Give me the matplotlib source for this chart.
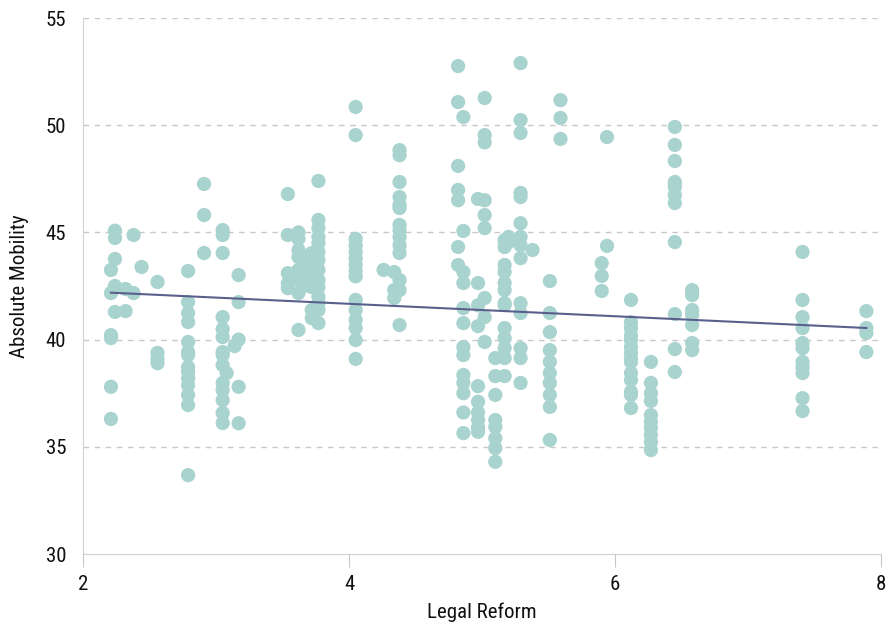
import numpy as np
import matplotlib.pyplot as plt

# legal reform score / absolute mobility, grouped roughly by state column
legal_reform = (
    [2.21]*6 + [2.24]*5 + [2.32]*2 + [2.38]*2 + [2.44] + [2.56]*4
    + [2.79]*14 + [2.91]*3 + [3.05]*14 + [3.08] + [3.14] + [3.17]*5
    + [3.54]*5 + [3.62]*8 + [3.66]*3 + [3.72]*7 + [3.77]*14
    + [4.05]*15 + [4.26] + [4.34]*3 + [4.38]*14
    + [4.82]*7 + [4.86]*13 + [4.97]*10 + [5.02]*9 + [5.10]*8
    + [5.17]*13 + [5.20]*2 + [5.29]*14 + [5.38] + [5.51]*10 + [5.59]*3
    + [5.90]*3 + [5.94]*2 + [6.12]*14 + [6.27]*10 + [6.45]*11
    + [6.58]*7 + [7.41]*11 + [7.89]*4
)
absolute_mobility = (
    [43.25, 42.17, 40.21, 40.07, 37.8, 36.3]
    + [45.08, 44.74, 43.76, 42.5, 41.29]
    + [42.36, 41.33]
    + [44.88, 42.17]
    + [43.39]
    + [42.69, 39.38, 39.1, 38.9]
    + [43.2, 41.75, 41.24, 40.82, 39.89, 39.42, 39.28, 38.72, 38.49, 38.2, 37.88, 37.42, 36.95, 33.68]
    + [47.26, 45.81, 44.04]
    + [45.11, 44.88, 44.04, 41.05, 40.49, 40.12, 39.42, 39.28, 38.81, 37.98, 37.65, 37.18, 36.58, 36.11]
    + [38.44]
    + [39.7]
    + [43.01, 41.75, 40.0, 37.8, 36.1]
    + [46.79, 44.88, 43.1, 42.63, 42.4]
    + [45.0, 44.7, 44.18, 43.85, 43.25, 42.78, 42.17, 40.45]
    + [43.6, 42.9, 42.5]
    + [44.04, 43.6, 43.1, 42.78, 42.45, 41.38, 41.0]
    + [47.4, 45.58, 45.2, 44.79, 44.5, 44.09, 43.71, 43.25, 42.78, 42.45, 41.99, 41.7, 41.38, 40.77]
    + [50.85, 49.54, 44.7, 44.4, 44.1, 43.8, 43.5, 43.2, 42.95, 41.85, 41.38, 40.92, 40.54, 39.98, 39.1]
    + [43.25]
    + [43.15, 42.31, 41.94]
    + [48.84, 48.6, 47.35, 46.65, 46.28, 46.14, 45.35, 45.1, 44.79, 44.4, 44.04, 42.78, 42.31, 40.68]
    + [52.76, 51.08, 48.1, 46.98, 46.5, 44.32, 43.48]
    + [50.38, 45.07, 43.15, 42.64, 41.47, 40.77, 39.65, 39.28, 38.35, 37.98, 37.5, 36.6, 35.64]
    + [46.56, 42.64, 41.6, 40.63, 37.83, 37.1, 36.6, 36.25, 35.9, 35.7]
    + [51.27, 49.54, 49.2, 46.5, 45.81, 45.2, 41.94, 41.05, 39.89]
    + [39.14, 38.3, 37.42, 36.25, 35.93, 35.4, 34.94, 34.3]
    + [44.32, 44.64, 43.48, 43.15, 42.64, 42.31, 41.61, 41.7, 40.54, 40.07, 39.6, 39.14, 38.3]
    + [44.79, 44.55]
    + [52.9, 50.24, 49.64, 46.84, 46.65, 45.43, 44.79, 44.4, 43.8, 41.7, 41.24, 39.6, 39.14, 37.98]
    + [44.18]
    + [42.73, 41.24, 40.35, 39.51, 38.96, 38.44, 37.98, 37.42, 36.86, 35.32]
    + [51.17, 50.34, 49.36]
    + [43.57, 42.97, 42.27]
    + [49.45, 44.37]
    + [41.85, 40.82, 40.54, 39.98, 39.65, 39.37, 38.96, 38.44, 38.12, 37.57, 37.42, 36.81, 40.2, 39.1]
    + [38.96, 37.98, 37.5, 37.14, 36.48, 36.16, 35.88, 35.55, 35.22, 34.85]
    + [49.92, 49.08, 48.33, 47.35, 47.12, 46.74, 46.37, 44.55, 41.19, 39.56, 38.49]
    + [42.31, 42.08, 41.38, 41.15, 40.68, 39.84, 39.51]
    + [44.09, 41.85, 41.05, 40.54, 39.84, 39.6, 38.96, 38.72, 38.44, 37.27, 36.67]
    + [41.33, 40.54, 40.31, 39.42]
)

# fitted trend line (intercept, slope)
trend_intercept = 42.83
trend_slope = -0.29

x = np.array(legal_reform)
y = np.array(absolute_mobility)

plt.rcParams['font.family'] = ['Roboto Condensed', 'Liberation Sans Narrow', 'Liberation Sans']

fig = plt.figure(figsize=(8.89, 6.30), dpi=100)
ax = fig.add_axes([0.0934, 0.1206, 0.8976, 0.8508])

ax.scatter(x, y, s=105, color='#a9d3cf', edgecolors='none', zorder=2)

xs = np.array([x.min(), x.max()])
ax.plot(xs, trend_intercept + trend_slope * xs, color='#5b5f8c', lw=1.5, zorder=3)

ax.set_xlim(2, 8)
ax.set_ylim(30, 55)
ax.set_xticks([2, 4, 6, 8])
ax.set_yticks([30, 35, 40, 45, 50, 55])

for v in [35, 40, 45, 50, 55]:
    ax.axhline(v, color='#c8c8c8', lw=1, ls=(0, (4, 4)), zorder=1)

for s in ['top', 'right']:
    ax.spines[s].set_visible(False)
ax.spines['left'].set_color('#d0d0d0')
ax.spines['bottom'].set_color('#d0d0d0')
ax.tick_params(axis='x', length=9, color='#c8c8c8', labelsize=15, pad=6, labelcolor='#111111')
ax.tick_params(axis='y', length=0, labelsize=15, pad=12, labelcolor='#111111')

ax.set_xlabel('Legal Reform', fontsize=15, labelpad=6, color='#111111')
ax.set_ylabel('Absolute Mobility', fontsize=15, labelpad=12, color='#111111')

fig.savefig('out.png', dpi=100)
